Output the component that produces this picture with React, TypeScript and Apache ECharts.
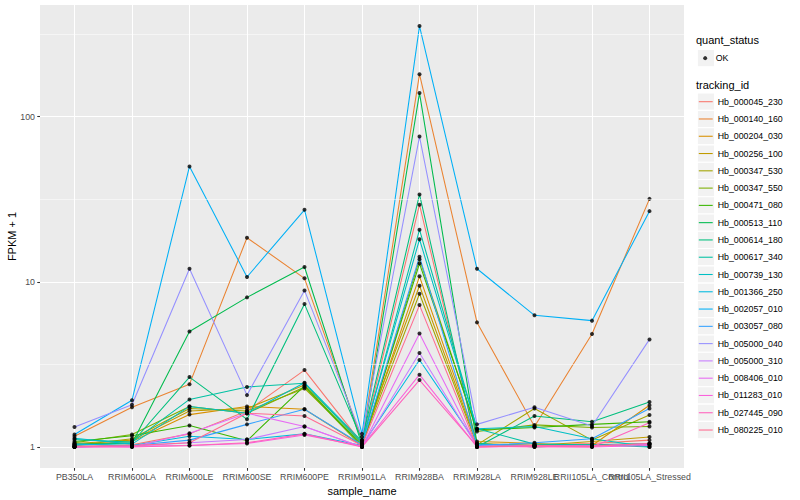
import React, { useEffect, useRef } from "react";
import * as echarts from "echarts";

const categories = [
  "PB350LA", "RRIM600LA", "RRIM600LE", "RRIM600SE", "RRIM600PE", "RRIM901LA",
  "RRIM928BA", "RRIM928LA", "RRIM928LE", "RRII105LA_Control", "RRII105LA_Stressed",
];

const trackingIds = [
  "Hb_000045_230", "Hb_000140_160", "Hb_000204_030", "Hb_000256_100", "Hb_000347_530",
  "Hb_000347_550", "Hb_000471_080", "Hb_000513_110", "Hb_000614_180", "Hb_000617_340",
  "Hb_000739_130", "Hb_001366_250", "Hb_002057_010", "Hb_003057_080", "Hb_005000_040",
  "Hb_005000_310", "Hb_008406_010", "Hb_011283_010", "Hb_027445_090", "Hb_080225_010",
];

const seriesColors = [
  "#F8766D", "#EA8331", "#D89000", "#C09B00", "#A3A500", "#7CAE00", "#39B600", "#00BB4E",
  "#00BF7D", "#00C1A3", "#00BFC4", "#00BAE0", "#00B0F6", "#35A2FF", "#9590FF", "#C77CFF",
  "#E76BF3", "#FA62DB", "#FF62BC", "#FF6C91",
];

// FPKM + 1 per sample (order of categories)
const hb_000045_230 = [1.0, 1.03, 1.2, 1.65, 2.92, 1.05, 29.3, 1.02, 1.03, 1.05, 1.1];
const hb_000140_160 = [1.16, 1.74, 2.4, 18.5, 10.5, 1.1, 181, 5.68, 1.33, 4.83, 31.8];
const hb_000204_030 = [1.03, 1.08, 1.57, 1.76, 1.69, 1.02, 10.8, 1.08, 1.05, 1.02, 1.79];
const hb_000256_100 = [1.05, 1.1, 1.65, 1.71, 2.37, 1.08, 9.47, 1.05, 1.02, 1.08, 1.15];
const hb_000347_530 = [1.02, 1.12, 1.71, 1.65, 2.26, 1.04, 8.47, 1.03, 1.71, 1.1, 1.56];
const hb_000347_550 = [1.06, 1.19, 1.76, 1.6, 2.31, 1.0, 13.7, 1.24, 1.36, 1.31, 1.33];
const hb_000471_080 = [1.08, 1.17, 1.35, 1.09, 2.34, 1.02, 12.9, 1.27, 1.31, 1.37, 1.42];
const hb_000513_110 = [1.04, 1.05, 5.0, 8.05, 12.3, 1.03, 139, 1.05, 1.0, 1.03, 1.05];
const hb_000614_180 = [1.02, 1.06, 2.65, 1.47, 7.33, 1.1, 33.8, 1.0, 1.54, 1.42, 1.87];
const hb_000617_340 = [1.11, 1.07, 1.94, 2.31, 2.43, 1.05, 20.7, 1.29, 1.04, 1.03, 1.0];
const hb_000739_130 = [1.13, 1.04, 1.76, 1.6, 2.45, 1.08, 18.1, 1.29, 1.33, 1.12, 1.0];
const hb_001366_250 = [1.04, 1.02, 1.16, 1.11, 1.2, 1.02, 3.36, 1.04, 1.02, 1.02, 1.03];
const hb_002057_010 = [1.19, 1.92, 50, 10.7, 27.3, 1.2, 354, 12.0, 6.27, 5.82, 26.8];
const hb_003057_080 = [1.0, 1.02, 1.1, 1.37, 1.69, 1.03, 14.2, 1.02, 1.06, 1.12, 1.71];
const hb_005000_040 = [1.32, 1.8, 12.0, 2.06, 8.87, 1.15, 75.8, 1.37, 1.74, 1.34, 4.48];
const hb_005000_310 = [1.0, 1.01, 1.06, 1.11, 1.33, 1.0, 3.71, 1.01, 1.02, 1.01, 1.05];
const hb_008406_010 = [1.01, 1.0, 1.21, 1.6, 1.33, 1.0, 4.87, 1.0, 1.01, 1.02, 1.04];
const hb_011283_010 = [1.0, 1.01, 1.02, 1.05, 1.18, 1.01, 2.74, 1.0, 1.01, 1.0, 1.02];
const hb_027445_090 = [1.0, 1.0, 1.02, 1.06, 1.2, 1.0, 2.54, 1.01, 1.0, 1.0, 1.4];
const hb_080225_010 = [1.01, 1.02, 1.06, 1.6, 1.54, 1.02, 7.23, 1.0, 1.02, 1.01, 1.05];

const seriesValues = [
  hb_000045_230, hb_000140_160, hb_000204_030, hb_000256_100, hb_000347_530,
  hb_000347_550, hb_000471_080, hb_000513_110, hb_000614_180, hb_000617_340,
  hb_000739_130, hb_001366_250, hb_002057_010, hb_003057_080, hb_005000_040,
  hb_005000_310, hb_008406_010, hb_011283_010, hb_027445_090, hb_080225_010,
];

const yMajorTicks = [1, 10, 100];
const yMinorLines = [Math.sqrt(10), Math.sqrt(1000), Math.sqrt(100000)];
const quantStatus = ["OK"];

const FONT = "Liberation Sans, Arial, Helvetica, sans-serif";

export default function App() {
  const ref = useRef<HTMLDivElement>(null);

  useEffect(() => {
    document.body.style.margin = "0";
    if (!ref.current) return;
    const chart = echarts.init(ref.current, null, { renderer: "svg" });

    const gridLeft = 40;
    const gridTop = 5;
    const gridRight = 684;
    const gridBottom = 468;

    const catIdx = categories.map((_, i) => i);
    const evenIdx = catIdx.filter((i) => i % 2 === 0);
    const oddIdx = catIdx.filter((i) => i % 2 === 1);

    const lineSeries = trackingIds.map((id, s) => ({
      type: "line",
      name: id,
      color: seriesColors[s],
      data: seriesValues[s].map((v, i) => [i, v]),
      symbol: "none",
      lineStyle: { color: seriesColors[s], width: 1.07 },
      itemStyle: { color: seriesColors[s], borderWidth: 0 },
      z: 2,
      silent: true,
      emphasis: { disabled: true },
    }));

    const points: number[][] = [];
    seriesValues.forEach((vals) => vals.forEach((v, i) => points.push([i, v])));

    const keySize = 17.28;
    const keyX = 697.3;
    const legendTop = 93.06;
    const graphics: any[] = [
      {
        type: "text",
        style: { x: 696, y: 40, text: "quant_status", fontSize: 11, fontFamily: FONT, fill: "#000", verticalAlign: "middle" },
      },
      {
        type: "rect",
        shape: { x: keyX, y: 49.5, width: keySize, height: keySize },
        style: { fill: "#F2F2F2", stroke: "#FFFFFF", lineWidth: 1.07 },
        z: -1,
      },
      {
        type: "text",
        style: { x: 696, y: 85, text: "tracking_id", fontSize: 11, fontFamily: FONT, fill: "#000", verticalAlign: "middle" },
      },
    ];
    trackingIds.forEach((_, i) => {
      graphics.push({
        type: "rect",
        shape: { x: keyX, y: legendTop + i * keySize, width: keySize, height: keySize },
        style: { fill: "#F2F2F2", stroke: "#FFFFFF", lineWidth: 1.07 },
        z: -1,
      });
    });

    const xLabelBase = {
      formatter: (v: number) => categories[Math.round(v)] ?? "",
      fontSize: 8.8,
      color: "#4D4D4D",
      fontFamily: FONT,
      margin: 4,
      hideOverlap: false,
      showMinLabel: true,
      showMaxLabel: true,
    };

    const option: any = {
      animation: false,
      backgroundColor: "#FFFFFF",
      textStyle: { fontFamily: FONT },
      grid: {
        left: gridLeft,
        top: gridTop,
        width: gridRight - gridLeft,
        height: gridBottom - gridTop,
        show: true,
        backgroundColor: "#EBEBEB",
        borderWidth: 0,
        containLabel: false,
        outerBoundsMode: "none",
      },
      xAxis: [
        {
          type: "value",
          position: "bottom",
          offset: 0,
          min: -0.6,
          max: categories.length - 1 + 0.6,
          name: "sample_name",
          nameLocation: "middle",
          nameGap: 16,
          nameTextStyle: { fontSize: 11, color: "#000", fontFamily: FONT },
          axisLine: { show: false, onZero: false },
          axisTick: {
            show: true,
            length: 2.75,
            customValues: catIdx,
            lineStyle: { color: "#333333", width: 1.07 },
          },
          axisLabel: { ...xLabelBase, customValues: evenIdx },
          splitLine: { show: true, lineStyle: { color: "#FFFFFF", width: 1.07 } },
        },
        {
          type: "value",
          position: "bottom",
          offset: 0,
          min: -0.6,
          max: categories.length - 1 + 0.6,
          axisLine: { show: false, onZero: false },
          axisTick: { show: false, customValues: oddIdx },
          axisLabel: { ...xLabelBase, customValues: oddIdx },
          splitLine: { show: false },
        },
      ],
      yAxis: {
        type: "log",
        logBase: 10,
        min: 0.7456,
        max: 474.8,
        name: "FPKM + 1",
        nameLocation: "middle",
        nameGap: 22.5,
        nameMoveOverlap: false,
        nameTextStyle: { fontSize: 11, color: "#000", fontFamily: FONT },
        axisLine: { show: false, onZero: false },
        axisTick: { show: true, length: 2.75, lineStyle: { color: "#333333", width: 1.07 } },
        axisLabel: {
          fontSize: 8.8,
          color: "#4D4D4D",
          fontFamily: FONT,
          margin: 5,
          showMinLabel: false,
          showMaxLabel: false,
          formatter: (v: number) => {
            const hit = yMajorTicks.find((t) => Math.abs(t - v) / t < 1e-6);
            return hit !== undefined ? String(hit) : "";
          },
        },
        splitLine: {
          show: true,
          showMinLine: false,
          showMaxLine: false,
          lineStyle: { color: "#FFFFFF", width: 1.07 },
        },
      },
      legend: [
        {
          data: quantStatus,
          orient: "vertical",
          left: 703.2,
          top: 49.5,
          padding: 0,
          icon: "circle",
          itemWidth: 4,
          itemHeight: 4,
          itemGap: 0,
          selectedMode: false,
          textStyle: { fontSize: 8.8, color: "#000", fontFamily: FONT, lineHeight: 17.28, padding: [0, 0, 0, 3.5] },
          itemStyle: { borderWidth: 0 },
        },
        {
          data: trackingIds,
          orient: "vertical",
          left: 698.8,
          top: legendTop,
          padding: 0,
          icon: "rect",
          itemWidth: 13.9,
          itemHeight: 1.07,
          itemGap: 0,
          selectedMode: false,
          textStyle: { fontSize: 8.8, color: "#000", fontFamily: FONT, lineHeight: 17.28, padding: [0, 0, 0, 0] },
          itemStyle: { borderWidth: 0 },
        },
      ],
      graphic: graphics,
      series: [
        {
          type: "line",
          name: "__minor_grid",
          data: [],
          z: 1,
          silent: true,
          markLine: {
            silent: true,
            symbol: ["none", "none"],
            label: { show: false },
            lineStyle: { color: "#FFFFFF", width: 0.53, type: "solid" },
            emphasis: { disabled: true },
            data: yMinorLines.map((v) => ({ yAxis: v })),
          },
        },
        ...lineSeries,
        {
          type: "scatter",
          name: "OK",
          data: points,
          symbol: "circle",
          symbolSize: 4,
          itemStyle: { color: "#000000" },
          z: 3,
          silent: true,
        },
      ],
    };

    chart.setOption(option);
    return () => chart.dispose();
  }, []);

  return <div ref={ref} style={{ width: 800, height: 500 }} />;
}
